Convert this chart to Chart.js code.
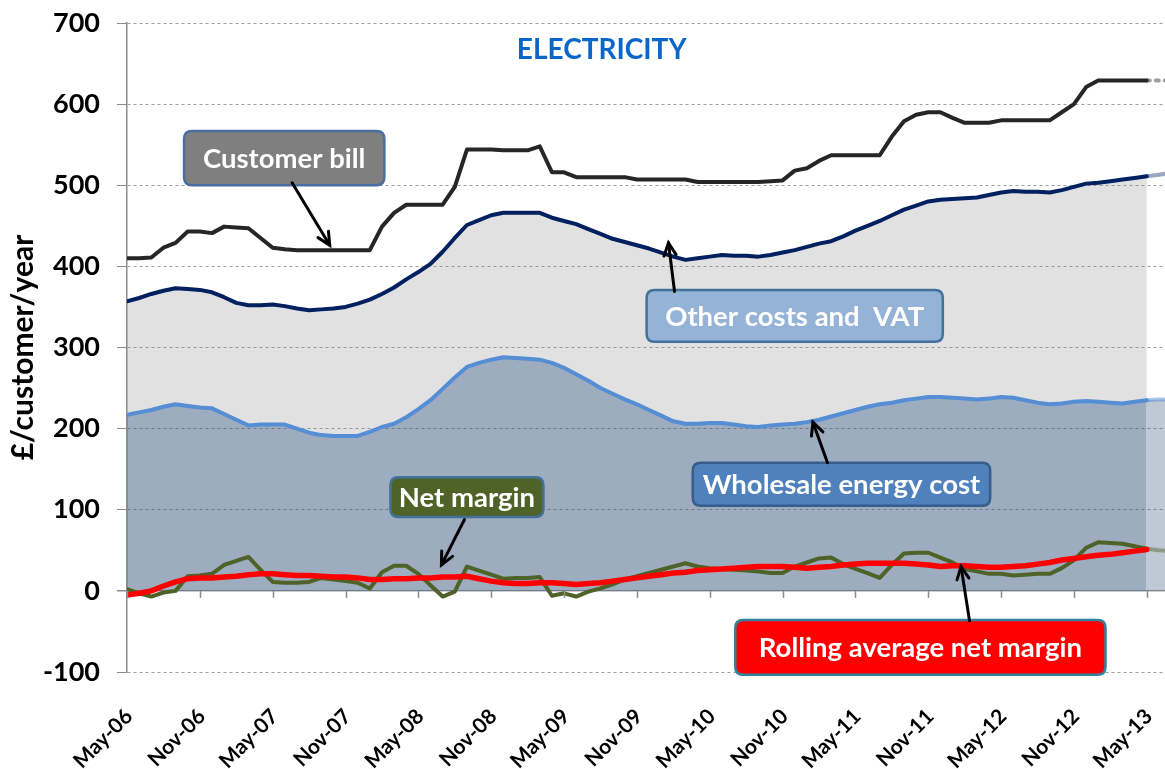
<!DOCTYPE html>
<html><head><meta charset="utf-8">
<script src="https://cdn.jsdelivr.net/npm/chart.js@4/dist/chart.umd.min.js"></script>
<style>html,body{margin:0;padding:0;background:#fff}#wrap{width:1165px;height:769px;position:relative}</style>
</head><body><div id="wrap"><canvas id="c"></canvas></div>
<script>
// Tick labels every 6 months (month index 0 = May-06)
const tickLabels = ['May-06','Nov-06','May-07','Nov-07','May-08','Nov-08','May-09','Nov-09','May-10','Nov-10','May-11','Nov-11','May-12','Nov-12','May-13'];
const monthsPerTick = 6;
const lastActualMonth = 84;

const customerBill = [410,410,411,423,429,443,443,441,449,448,
 447,435,423,421,420,420,420,420,420,420,
 420,449,466,476,476,476,476,498,544,544,
 544,543,543,543,548,516,516,510,510,510,
 510,510,507,507,507,507,507,504,504,504,
 504,504,504,505,506,518,521,530,537,537,
 537,537,537,560,579,587,590,590,583,577,
 577,577,580,580,580,580,580,590,600,621,
 629,629,629,629,629,629,629];

const otherCosts = [357,361,366,370,373,372,371,368,362,355,
 352,352,353,351,348,346,347,348,350,354,
 359,366,374,384,393,403,418,435,451,457,
 463,466,466,466,466,460,456,452,446,440,
 434,430,426,422,417,412,408,410,412,414,
 413,413,412,414,417,420,424,428,431,437,
 444,450,456,463,470,475,480,482,483,484,
 485,488,491,493,492,492,491,494,498,502,
 503,505,507,509,511,513,515];

const wholesale = [217,220,223,227,230,228,226,225,218,211,
 204,205,205,205,200,195,192,191,191,191,
 196,202,206,214,224,235,249,263,276,281,
 285,288,287,286,285,281,275,267,259,250,
 243,236,230,223,216,209,206,206,207,207,
 205,203,202,204,205,206,208,211,215,219,
 223,227,230,232,235,237,239,239,238,237,
 236,237,239,238,235,232,230,231,233,234,
 233,232,231,233,235,236,236];

const netMargin = [2,-3,-7,-2,0,18,19,21,32,37,
 42,26,11,10,10,11,16,14,12,10,
 3,23,31,31,21,7,-7,-1,30,25,
 20,15,16,16,17,-6,-3,-7,-1,3,
 8,14,18,22,26,30,34,30,28,27,
 26,25,24,22,22,30,35,40,41,33,
 27,22,16,32,46,47,47,41,35,27,
 24,21,21,19,20,21,21,28,38,53,
 60,59,58,55,52,50,49];

const rollingMargin = [-5,-3,0,6,11,15,16,16,17,18,
 20,21,21,20,19,19,18,17,17,16,
 14,14,15,15,16,16,17,17,18,15,
 12,10,9,9,10,10,9,8,9,10,
 12,14,16,18,20,22,23,25,26,27,
 28,29,30,30,30,29,28,29,30,32,
 33,34,34,34,34,33,32,30,31,31,
 30,29,29,30,31,33,35,38,40,42,
 44,45,47,49,51,52,53];

// Callouts in data coordinates: box [x0,y0,x1,y1], arrow [tailX,tailY,headX,headY]
const callouts = [
  {text:'Customer bill', box:[4.7,567,21.2,500], fill:'#7f7f7f', stroke:'#4a6f9e', arrow:[13.6,503,16.7,426]},
  {text:'Other costs and  VAT', box:[42.8,371,67.2,307], fill:'#95b3d7', stroke:'#41719c', arrow:[45.1,369,44.6,429]},
  {text:'Wholesale energy cost', box:[46.6,158,71.1,105], fill:'#4f81bd', stroke:'#385d8a', arrow:[57.7,158,56.5,208]},
  {text:'Net margin', box:[21.7,140,34.3,91], fill:'#4f6228', stroke:'#41719c', arrow:[27.8,88,25.9,32]},
  {text:'Rolling average net margin', box:[50.1,-36,80.6,-103.5], fill:'#ff0000', stroke:'#31849b', arrow:[69.4,-37,68.7,30]}
];
const chartTitle = {text:'ELECTRICITY', x:39.1, y:667};

const pts = arr => arr.map((v,i)=>({x:i,y:v}));
const seg = (actual, proj) => ctx => (ctx.p0.parsed.x >= lastActualMonth ? proj : actual);

function roundRect(ctx,x,y,w,h,r){
  ctx.beginPath();
  ctx.moveTo(x+r,y);ctx.lineTo(x+w-r,y);ctx.quadraticCurveTo(x+w,y,x+w,y+r);
  ctx.lineTo(x+w,y+h-r);ctx.quadraticCurveTo(x+w,y+h,x+w-r,y+h);
  ctx.lineTo(x+r,y+h);ctx.quadraticCurveTo(x,y+h,x,y+h-r);
  ctx.lineTo(x,y+r);ctx.quadraticCurveTo(x,y,x+r,y);ctx.closePath();
}

const decorPlugin = {
  id:'decor',
  afterDatasetsDraw(chart){
    const {ctx, scales:{x,y}} = chart;
    const y0 = y.getPixelForValue(0);
    ctx.save();
    ctx.strokeStyle='#8c8c8c'; ctx.lineWidth=1.5;
    x.ticks.forEach(t=>{
      const px = Math.round(x.getPixelForValue(t.value))+0.5;
      ctx.beginPath(); ctx.moveTo(px,y0); ctx.lineTo(px,y0+7); ctx.stroke();
    });
    ctx.restore();
  },
  afterDraw(chart){
    const {ctx, scales:{x,y}} = chart;
    ctx.save();
    ctx.font='bold 28px Lato'; ctx.fillStyle='#0a66c8'; ctx.textAlign='center'; ctx.textBaseline='middle';
    ctx.fillText(chartTitle.text, x.getPixelForValue(chartTitle.x), y.getPixelForValue(chartTitle.y));
    callouts.forEach(c=>{
      const bx0=x.getPixelForValue(c.box[0]), by0=y.getPixelForValue(c.box[1]);
      const bx1=x.getPixelForValue(c.box[2]), by1=y.getPixelForValue(c.box[3]);
      roundRect(ctx,bx0,by0,bx1-bx0,by1-by0,8);
      ctx.fillStyle=c.fill; ctx.fill();
      ctx.lineWidth=2.5; ctx.strokeStyle=c.stroke; ctx.stroke();
      ctx.fillStyle='#fff'; ctx.font='bold 27.5px Lato'; ctx.textAlign='center'; ctx.textBaseline='middle';
      ctx.fillText(c.text,(bx0+bx1)/2,(by0+by1)/2+1);
      const ax0=x.getPixelForValue(c.arrow[0]), ay0=y.getPixelForValue(c.arrow[1]);
      const ax1=x.getPixelForValue(c.arrow[2]), ay1=y.getPixelForValue(c.arrow[3]);
      ctx.strokeStyle='#000'; ctx.lineWidth=3; ctx.lineCap='round';
      ctx.beginPath(); ctx.moveTo(ax0,ay0); ctx.lineTo(ax1,ay1); ctx.stroke();
      const ang=Math.atan2(ay1-ay0,ax1-ax0), L=14, sp=0.45;
      ctx.beginPath();
      ctx.moveTo(ax1-L*Math.cos(ang-sp), ay1-L*Math.sin(ang-sp));
      ctx.lineTo(ax1,ay1);
      ctx.lineTo(ax1-L*Math.cos(ang+sp), ay1-L*Math.sin(ang+sp));
      ctx.stroke();
    });
    ctx.restore();
  }
};

function makeChart(){
  new Chart(document.getElementById('c'), {
    type:'line',
    data:{datasets:[
      {label:'Customer bill', data:pts(customerBill), borderColor:'#262626', borderWidth:4, pointRadius:0, fill:false, order:3,
       segment:{borderColor:seg('#262626','rgba(38,38,38,0.45)'), borderDash:seg([],[3,6])}},
      {label:'Other costs and VAT', data:pts(otherCosts), borderColor:'#002060', borderWidth:4, pointRadius:0, fill:2,
       backgroundColor:'rgba(128,128,128,0.24)', order:5,
       segment:{backgroundColor:seg('rgba(128,128,128,0.24)','rgba(0,0,0,0)'), borderColor:seg('#002060','rgba(0,32,96,0.4)')}},
      {label:'Wholesale energy cost', data:pts(wholesale), borderColor:'#558ed5', borderWidth:4, pointRadius:0, fill:'origin',
       backgroundColor:'rgba(61,89,129,0.5)', order:4,
       segment:{backgroundColor:seg('rgba(61,89,129,0.5)','rgba(61,89,129,0.33)'), borderColor:seg('#558ed5','rgba(85,142,213,0.5)')}},
      {label:'Net margin', data:pts(netMargin), borderColor:'#4f6228', borderWidth:4, pointRadius:0, fill:false, order:2,
       segment:{borderColor:seg('#4f6228','rgba(79,98,40,0.45)')}},
      {label:'Rolling average net margin', data:pts(rollingMargin), borderColor:'#ff0000', borderWidth:5.5, pointRadius:0, fill:false, order:1,
       segment:{borderColor:seg('#ff0000','rgba(255,0,0,0)')}}
    ]},
    options:{
      responsive:true, maintainAspectRatio:false, animation:false,
      layout:{padding:{top:23,right:0,bottom:0,left:0}},
      plugins:{legend:{display:false}, tooltip:{enabled:false}, title:{display:false}},
      elements:{line:{tension:0, borderJoinStyle:'round', borderCapStyle:'round'}},
      scales:{
        x:{type:'linear', min:0, max:85.5,
          afterBuildTicks:s=>{ s.ticks = tickLabels.map((_,i)=>({value:i*monthsPerTick})); },
          afterFit:s=>{ s.height=97; s.paddingLeft=0; s.paddingRight=0; s.paddingTop=0; s.paddingBottom=0; },
          grid:{display:false, drawTicks:false}, border:{display:false},
          ticks:{autoSkip:false, minRotation:45, maxRotation:45, padding:32, labelOffset:2, color:'#000',
            font:{family:'Lato', weight:'bold', size:21},
            callback:v=>tickLabels[Math.round(v/monthsPerTick)]}
        },
        y:{min:-100, max:700,
          afterFit:s=>{ s.width=127; s.paddingTop=0; s.paddingBottom=0; },
          ticks:{stepSize:100, padding:17, color:'#000', font:{family:'Lato', weight:'bold', size:27}},
          grid:{color:'#9e9e9e', lineWidth:c=>(c.tick && c.tick.value===0)?1.5:1, tickLength:10, tickColor:'#8c8c8c', tickBorderDash:[]},
          border:{color:'#8c8c8c', width:1.5, dash:c=>(c.tick && c.tick.value===0)?[]:[3,3]},
          title:{display:true, text:'£/customer/year', color:'#000', font:{family:'Lato', weight:'bold', size:30}, padding:{top:5,bottom:0}}
        }
      }
    },
    plugins:[decorPlugin]
  });
}
document.fonts.load('bold 25px Lato').then(makeChart, makeChart);
</script>
</body></html>
